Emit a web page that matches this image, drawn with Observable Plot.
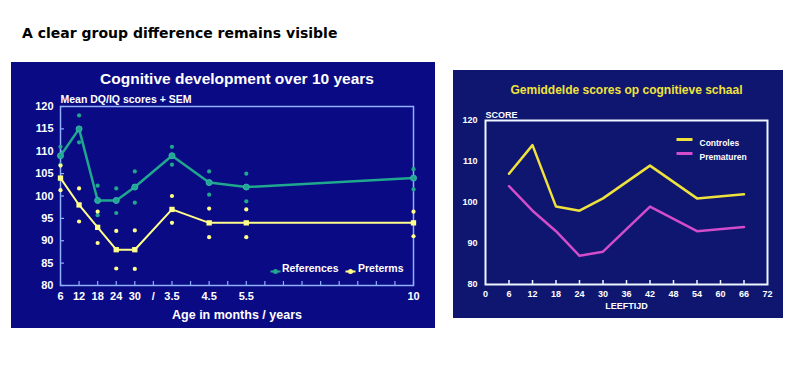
<!DOCTYPE html>
<html>
<head>
<meta charset="utf-8">
<script src="https://cdn.jsdelivr.net/npm/d3@7"></script>
<script src="https://cdn.jsdelivr.net/npm/@observablehq/plot@0.6"></script>
<style>
  html, body { margin: 0; padding: 0; background: #ffffff; }
  #page { position: relative; width: 800px; height: 380px; overflow: hidden; }
  #headline { position: absolute; left: 22px; top: 25px; font-family: "DejaVu Sans", Verdana, sans-serif; font-weight: bold; font-size: 14px; color: #000; white-space: nowrap; }
  #left { position: absolute; left: 11px; top: 62px; }
  #right { position: absolute; left: 453px; top: 70px; }
  svg { display: block; }
</style>
</head>
<body>
<div id="page">
  <div id="headline">A clear group difference remains visible</div>
  <div id="left"></div>
  <div id="right"></div>
</div>
<script>
// ---------- Left chart data (age in months; 3.5, 4.5, 5.5, 10 years = 42, 54, 66, 120 months)
const ageMonths   = [6, 12, 18, 24, 30, 42, 54, 66, 120];
const refMean     = [109, 115, 99, 99, 102, 109, 103, 102, 104];
const refSemHigh  = [111, 118, 102.3, 101.7, 105.5, 111, 105.5, 105, 106];
const refSemLow   = [107, 112, 95.7, 96.2, 98.5, 107, 100.3, 98.8, 101.5];
const pretMean    = [104, 98, 93, 88, 88, 97, 94, 94, 94];
const pretSemHigh = [106.8, 101.7, 96.5, 92.2, 92.3, 100, 97.2, 97, 96.5];
const pretSemLow  = [101.3, 94.3, 89.5, 83.8, 83.7, 94, 90.8, 90.8, 91];
const leftTickMonths = [6, 12, 18, 24, 30, 36, 42, 54, 66, 120];
const leftTickLabels = ["6", "12", "18", "24", "30", "/", "3.5", "4.5", "5.5", "10"];
const leftMinorTicks = d3.range(6, 121, 6);
const leftYTicks = [80, 85, 90, 95, 100, 105, 110, 115, 120];

// ---------- Right chart data
const leeftijd   = [6, 12, 18, 24, 30, 42, 54, 66];
const controles  = [107, 114, 99, 98, 101, 109, 101, 102];
const prematuren = [104, 98, 93, 87, 88, 99, 93, 94];
const rightXTicks = [0, 6, 12, 18, 24, 30, 36, 42, 48, 54, 60, 66, 72];
const rightYTicks = [80, 90, 100, 110, 120];

const SANS = "'Liberation Sans', Arial, Helvetica, sans-serif";

// ---------- Left chart
const TEAL = "#1fa88e";
const YEL = "#ffff8a";
const LFRAME = "#8fb0ff";
const lW = 424, lH = 266, lMl = 49, lMr = 22, lMt = 44, lMb = 43;
const lFH = lH - lMt - lMb, lFW = lW - lMl - lMr;

const refRows = ageMonths.map((m, i) => ({m, mean: refMean[i], hi: refSemHigh[i], lo: refSemLow[i]}));
const pretRows = ageMonths.map((m, i) => ({m, mean: pretMean[i], hi: pretSemHigh[i], lo: pretSemLow[i]}));
const semDots = (rows) => rows.flatMap(r => [{m: r.m, v: r.hi}, {m: r.m, v: r.lo}]);

const dashSymbol = { draw(ctx) { ctx.moveTo(-5, 0); ctx.lineTo(5, 0); } };
const longDash = { draw(ctx) { ctx.moveTo(-8, 0); ctx.lineTo(8, 0); } };

const left = Plot.plot({
  width: lW, height: lH,
  marginLeft: lMl, marginRight: lMr, marginTop: lMt, marginBottom: lMb,
  style: { background: "#0a0a84", color: "#ffffff", fontFamily: SANS, fontWeight: "bold", fontSize: "11px" },
  x: { domain: [6, 120], label: null },
  y: { domain: [80, 120], label: null },
  marks: [
    Plot.axisY({ ticks: leftYTicks, tickSize: 0, tickPadding: 7, fontSize: 11, fontWeight: "bold", fill: "#ffffff" }),
    Plot.axisX({ ticks: leftTickMonths, tickFormat: (d) => leftTickLabels[leftTickMonths.indexOf(d)], tickSize: 0, tickPadding: 7, fontSize: 11, fontWeight: "bold", fill: "#ffffff" }),
    Plot.ruleX(leftMinorTicks, { x: d => d, stroke: LFRAME, strokeWidth: 1.2, insetTop: lFH - 4 }),
    Plot.ruleY(leftYTicks, { y: d => d, stroke: LFRAME, strokeWidth: 1.2, insetRight: lFW - 4 }),
    Plot.frame({ stroke: LFRAME, strokeWidth: 1.5 }),
    // SEM dots
    Plot.dot(semDots(refRows), { x: "m", y: "v", r: 2.1, fill: TEAL }),
    Plot.dot(semDots(pretRows), { x: "m", y: "v", r: 2.1, fill: YEL }),
    // mean lines
    Plot.line(refRows, { x: "m", y: "mean", stroke: TEAL, strokeWidth: 2.5 }),
    Plot.dot(refRows, { x: "m", y: "mean", r: 3, fill: TEAL, stroke: "#3ab4b4", strokeWidth: 1 }),
    Plot.line(pretRows, { x: "m", y: "mean", stroke: YEL, strokeWidth: 2 }),
    Plot.dot(pretRows, { x: "m", y: "mean", symbol: "square", r: 3, fill: YEL }),
    // titles
    Plot.text(["Cognitive development over 10 years"], { frameAnchor: "top", dy: -34, fontSize: 15.5, fontWeight: "bold", fill: "#ffffff" }),
    Plot.text(["Mean DQ/IQ scores + SEM"], { frameAnchor: "top-left", textAnchor: "start", dy: -11, fontSize: 10.5, fontWeight: "bold", fill: "#ffffff" }),
    Plot.text(["Age in months / years"], { frameAnchor: "bottom", dy: 33, fontSize: 12.5, fontWeight: "bold", fill: "#ffffff" }),
    // legend
    Plot.dot(["References"], { frameAnchor: "bottom-right", dx: -138, dy: -14, symbol: dashSymbol, stroke: TEAL, strokeWidth: 2 }),
    Plot.dot(["References"], { frameAnchor: "bottom-right", dx: -138, dy: -14, r: 2.5, fill: TEAL }),
    Plot.text(["References"], { frameAnchor: "bottom-right", textAnchor: "end", dx: -75, dy: -14, fontSize: 10.5, fontWeight: "bold", fill: "#ffffff" }),
    Plot.dot(["Preterms"], { frameAnchor: "bottom-right", dx: -63, dy: -14, symbol: dashSymbol, stroke: YEL, strokeWidth: 2 }),
    Plot.dot(["Preterms"], { frameAnchor: "bottom-right", dx: -63, dy: -14, r: 2.5, fill: YEL }),
    Plot.text(["Preterms"], { frameAnchor: "bottom-right", textAnchor: "end", dx: -10, dy: -14, fontSize: 10.5, fontWeight: "bold", fill: "#ffffff" })
  ]
});
document.getElementById("left").appendChild(left);

// ---------- Right chart
const CYEL = "#f0e23c";
const CMAG = "#d24ccc";
const RFRAME = "#eef6ff";
const rW = 330, rH = 248, rMl = 32, rMr = 16, rMt = 50, rMb = 34;
const rFH = rH - rMt - rMb;

const ctrRows = leeftijd.map((a, i) => ({a, v: controles[i]}));
const preRows = leeftijd.map((a, i) => ({a, v: prematuren[i]}));

const right = Plot.plot({
  width: rW, height: rH,
  marginLeft: rMl, marginRight: rMr, marginTop: rMt, marginBottom: rMb,
  style: { background: "#0e1670", color: "#ffffff", fontFamily: SANS, fontWeight: "bold", fontSize: "9px" },
  x: { domain: [0, 72], label: null },
  y: { domain: [80, 120], label: null },
  marks: [
    Plot.axisY({ ticks: rightYTicks, tickSize: 0, tickPadding: 8, fontSize: 9, fontWeight: "bold", fill: "#ffffff" }),
    Plot.axisX({ ticks: rightXTicks, tickSize: 0, tickPadding: 6, fontSize: 9, fontWeight: "bold", fill: "#ffffff" }),
    Plot.ruleX(rightXTicks.slice(1, -1), { x: d => d, stroke: RFRAME, strokeWidth: 1.5, insetTop: rFH - 4 }),
    Plot.frame({ stroke: RFRAME, strokeWidth: 2 }),
    Plot.line(ctrRows, { x: "a", y: "v", stroke: CYEL, strokeWidth: 2.5 }),
    Plot.line(preRows, { x: "a", y: "v", stroke: CMAG, strokeWidth: 2.5 }),
    Plot.text(["Gemiddelde scores op cognitieve schaal"], { frameAnchor: "top", dy: -35, fontSize: 12, fontWeight: "bold", fill: CYEL, style: "letter-spacing:0.6px" }),
    Plot.text(["SCORE"], { frameAnchor: "top-left", textAnchor: "start", dy: -9, fontSize: 9, fontWeight: "bold", fill: "#ffffff" }),
    Plot.text(["LEEFTIJD"], { frameAnchor: "bottom", dy: 24, fontSize: 9, fontWeight: "bold", fill: "#ffffff" }),
    // legend
    Plot.dot(["Controles"], { frameAnchor: "top-right", dx: -83, dy: 19, symbol: longDash, stroke: CYEL, strokeWidth: 3 }),
    Plot.text(["Controles"], { frameAnchor: "top-right", textAnchor: "start", dx: -68, dy: 19, fontSize: 8.5, fontWeight: "bold", fill: "#ffffff" }),
    Plot.dot(["Prematuren"], { frameAnchor: "top-right", dx: -83, dy: 33, symbol: longDash, stroke: CMAG, strokeWidth: 3 }),
    Plot.text(["Prematuren"], { frameAnchor: "top-right", textAnchor: "start", dx: -68, dy: 33, fontSize: 8.5, fontWeight: "bold", fill: "#ffffff" })
  ]
});
document.getElementById("right").appendChild(right);
</script>
</body>
</html>
